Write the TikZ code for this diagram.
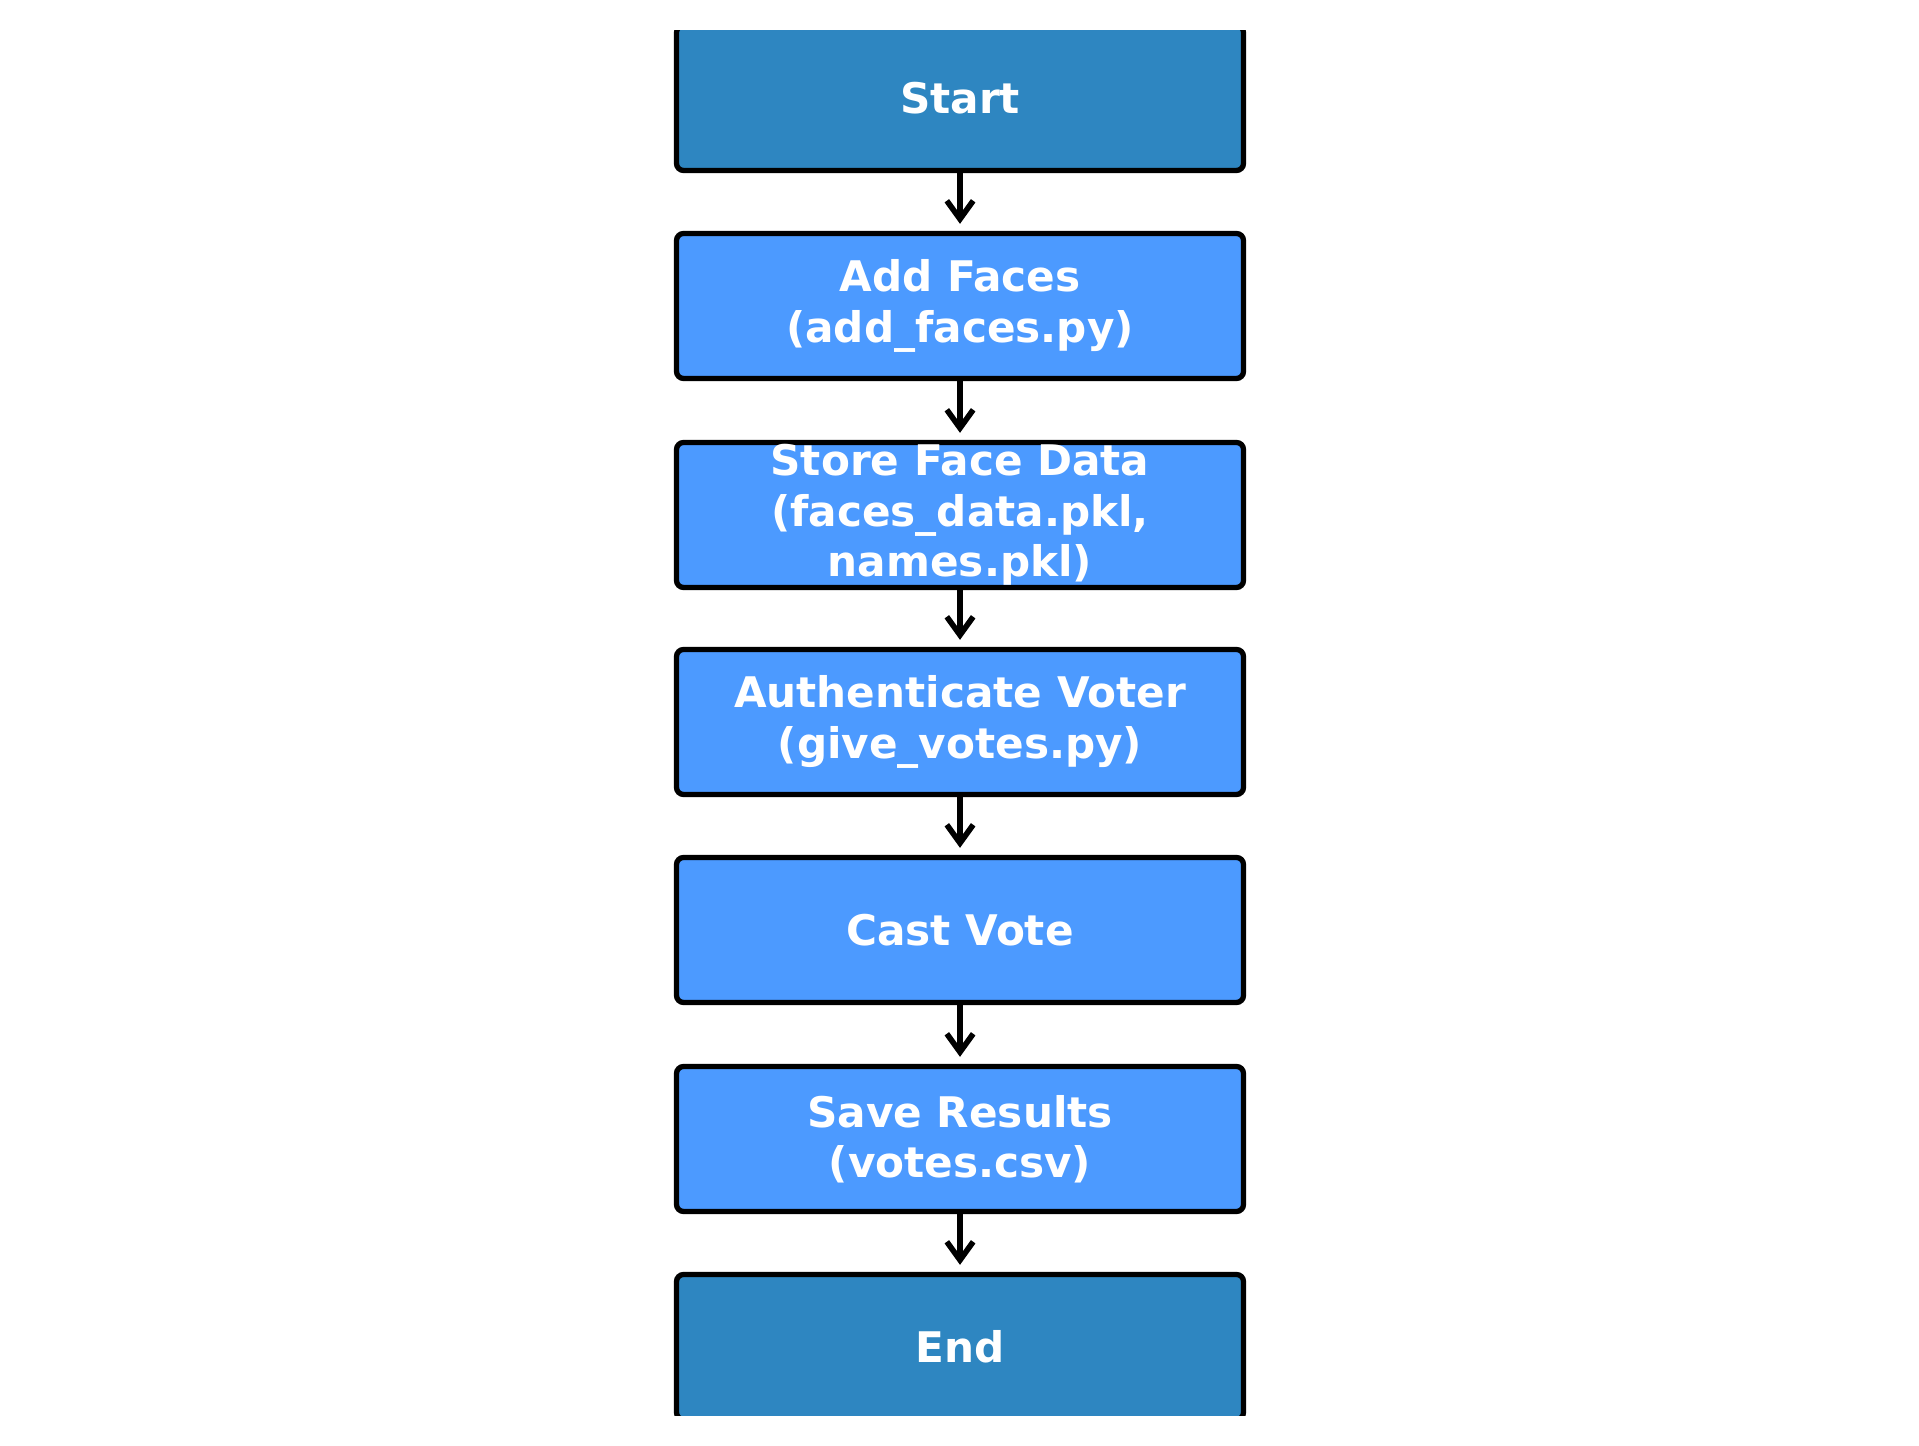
\documentclass[tikz,border=0pt]{standalone}
\usepackage{fontspec}
\setmainfont{DejaVu Sans}
\usepackage{xcolor}
\usepackage{tikz}
\usetikzlibrary{shapes,arrows.meta}

\definecolor{termblue}{HTML}{2E86C1}
\definecolor{stepblue}{HTML}{4C9AFF}

\tikzset{
    box/.style={draw=black, line width=1.5pt, rounded corners=2pt,
        minimum width=5.67cm, minimum height=1.45cm, align=center,
        inner ysep=0pt, text=white, font=\fontsize{12}{14.3}\selectfont\bfseries},
    termbox/.style={box, fill=termblue},
    stepbox/.style={box, fill=stepblue},
    flow/.style={line width=1.6pt, shorten >=0.07cm,
        -{Straight Barb[length=5.2pt,width=7.5pt,line width=1.6pt]}}
}

\begin{document}
\begin{tikzpicture}
    \useasboundingbox (0,0) rectangle (19.19,14.46);
    \begin{scope}
    \clip (0,0.30) rectangle (19.19,14.154);

    % Start and end
    \node[termbox] (start) at (9.6,13.48) {Start};
    \node[termbox] (end) at (9.6,0.99) {End};

    % Face registration
    \node[stepbox] (addfaces) at (9.6,11.40) {Add Faces\\(add\_faces.py)};
    \node[stepbox] (store) at (9.6,9.31) {Store Face Data\\(faces\_data.pkl,\\names.pkl)};

    % Voting
    \node[stepbox] (auth) at (9.6,7.24) {Authenticate Voter\\(give\_votes.py)};
    \node[stepbox] (cast) at (9.6,5.16) {Cast Vote};
    \node[stepbox] (save) at (9.6,3.07) {Save Results\\(votes.csv)};

    % Flow arrows
    \draw[flow] (start.south) -- (addfaces.north);
    \draw[flow] (addfaces.south) -- (store.north);
    \draw[flow] (store.south) -- (auth.north);
    \draw[flow] (auth.south) -- (cast.north);
    \draw[flow] (cast.south) -- (save.north);
    \draw[flow] (save.south) -- (end.north);
    \end{scope}
\end{tikzpicture}
\end{document}
